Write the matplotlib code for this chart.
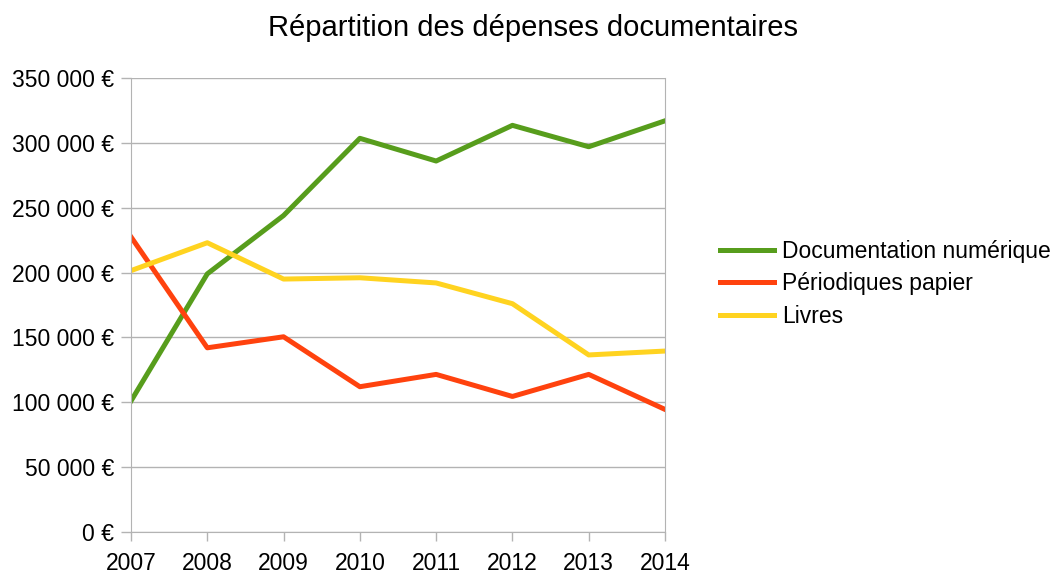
import matplotlib
matplotlib.use("Agg")
import matplotlib.pyplot as plt
from matplotlib.ticker import FuncFormatter

# data
years = [2007, 2008, 2009, 2010, 2011, 2012, 2013, 2014]
numerique = [101000, 199000, 244000, 303500, 286000, 313500, 297000, 317000]
periodiques = [227500, 142000, 150500, 112000, 121500, 104500, 121500, 94500]
livres = [201500, 223000, 195000, 196000, 192000, 176000, 136500, 139500]

plt.rcParams['font.family'] = ['Liberation Sans', 'DejaVu Sans']

fig = plt.figure(figsize=(10.55, 5.73), dpi=100)
ax = fig.add_axes([131/1055, 1-532/573, (665-131)/1055, (532-78)/573])

ax.plot(years, numerique, color="#579D1C", lw=3.6, label="Documentation numérique")
ax.plot(years, periodiques, color="#FF420E", lw=3.6, label="Périodiques papier")
ax.plot(years, livres, color="#FFD320", lw=3.6, label="Livres")

ax.set_xlim(2007, 2014)
ax.set_ylim(0, 350000)
ax.set_xticks(years)
ax.set_yticks(range(0, 350001, 50000))
ax.yaxis.set_major_formatter(FuncFormatter(lambda v, p: f"{int(v):,} €".replace(",", " ")))
ax.grid(axis="y", color="#b3b3b3", lw=1)
ax.set_axisbelow(True)
for s in ax.spines.values():
    s.set_color("#b3b3b3")
ax.spines["top"].set_visible(False)
ax.tick_params(colors="#b3b3b3", labelcolor="black", labelsize=16.5, width=1)
ax.tick_params(axis="y", length=7.5, pad=4.5)
ax.tick_params(axis="x", length=6.5, pad=8)

fig.text(533/1055, 1-28/573, "Répartition des dépenses documentaires", ha="center", va="center", fontsize=21)

fig.legend(loc="center left", bbox_to_anchor=(720/1055, 1-284/573), frameon=False,
           borderaxespad=0, borderpad=0,
           fontsize=16.5, handlelength=2.35, handletextpad=0.35, labelspacing=0.43)

fig.savefig("out.png", dpi=100)
